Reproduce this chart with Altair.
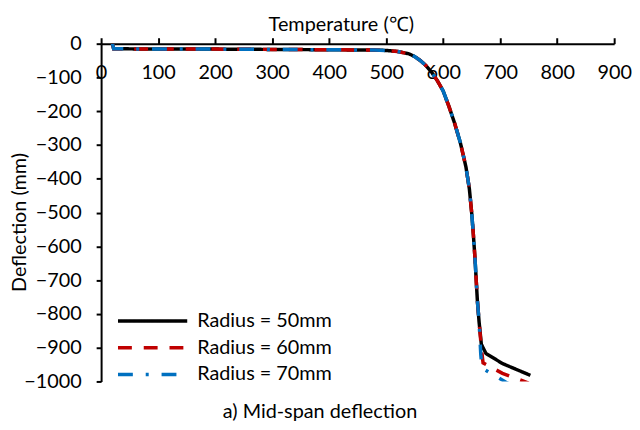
import altair as alt
import pandas as pd

series_names = ["Radius = 50mm", "Radius = 60mm", "Radius = 70mm"]
series_colors = ["#000000", "#C00000", "#0070C0"]
series_dashes = [[1, 0], [14, 12], [15, 13, 3, 13]]

# shared early part of the curves (temperature in deg C, deflection in mm)
temp_common = [20, 22, 100, 200, 300, 400, 480, 500, 520, 540, 550, 560, 570, 580,
               590, 600, 610, 620, 630, 640, 646, 650, 653, 656, 658, 660, 663]
defl_common = [0, -15, -16, -16, -17, -18, -19, -20, -23, -30, -38, -50, -65, -85,
               -110, -140, -185, -235, -292, -365, -430, -500, -565, -640, -700, -760, -823]

temp_50_tail = [667, 675, 704, 753]
defl_50_tail = [-890, -917, -947, -982]

temp_60_tail = [667, 670, 704, 750]
defl_60_tail = [-900, -945, -976, -1005]

temp_70_tail = [666, 668, 713, 750]
defl_70_tail = [-920, -960, -1005, -1038]

x_ticks = [0, 100, 200, 300, 400, 500, 600, 700, 800, 900]
y_ticks = [-1000, -900, -800, -700, -600, -500, -400, -300, -200, -100, 0]

rows = []
tails = [(temp_50_tail, defl_50_tail), (temp_60_tail, defl_60_tail), (temp_70_tail, defl_70_tail)]
for name, (tt, dd) in zip(series_names, tails):
    ts = temp_common + tt
    ds = defl_common + dd
    for i, (t, d) in enumerate(zip(ts, ds)):
        rows.append({"series": name, "temp": t, "defl": d, "order": i})
df = pd.DataFrame(rows)

FONT = "Lato"
FS = 20

# long horizontal line symbol (70 px at symbolSize 900) with compact rows
legend = alt.Legend(
    title=None, orient="none", legendX=35, legendY=263,
    symbolType="M-2.33,0H2.33", symbolSize=900, symbolStrokeWidth=3.5,
    labelFont=FONT, labelFontSize=FS, labelColor="black", labelOffset=28,
    rowPadding=0, padding=0,
)

chart = alt.Chart(df).mark_line(strokeWidth=3.5, clip=True, strokeCap="butt").encode(
    x=alt.X("temp:Q",
            scale=alt.Scale(domain=[0, 900], nice=False, zero=False),
            axis=alt.Axis(orient="top", values=x_ticks, format="d",
                          title="Temperature (℃)", titleFont=FONT, titleFontSize=FS,
                          titleFontWeight="normal", titleColor="black",
                          titleX=242, titleY=-13, titleAlign="center", titleBaseline="alphabetic",
                          labelFont=FONT, labelFontSize=FS, labelColor="black",
                          labelPadding=-41, labelBaseline="alphabetic", labelFlush=False,
                          labelOverlap=False, tickSize=6, tickWidth=2, tickColor="black",
                          domainColor="black", domainWidth=2, grid=False)),
    y=alt.Y("defl:Q",
            scale=alt.Scale(domain=[-1000, 0], nice=False),
            axis=alt.Axis(values=y_ticks, format="d",
                          title="Deflection (mm)", titleFont=FONT, titleFontSize=FS,
                          titleFontWeight="normal", titleColor="black",
                          titleX=-82, titleY=180, titleAlign="center", titleBaseline="middle",
                          labelFont=FONT, labelFontSize=FS, labelColor="black",
                          labelPadding=15, labelOverlap=False, tickSize=5, tickWidth=2,
                          tickColor="black", domainColor="black", domainWidth=2, grid=False)),
    color=alt.Color("series:N", scale=alt.Scale(domain=series_names, range=series_colors),
                    legend=legend),
    strokeDash=alt.StrokeDash("series:N", scale=alt.Scale(domain=series_names, range=series_dashes),
                              legend=legend),
    order="order:Q",
).properties(
    width=518, height=341,
    padding={"left": 94, "top": 34, "right": 18, "bottom": 46},
    autosize=alt.AutoSizeParams(type="none"),
    title=alt.TitleParams("a) Mid-span deflection", orient="bottom", anchor="middle",
                          font=FONT, fontSize=FS, fontWeight="normal", color="black",
                          offset=11, dx=-38),
).configure_view(stroke=None)

chart.save("out.html", embed_options={"renderer": "svg", "actions": False})
